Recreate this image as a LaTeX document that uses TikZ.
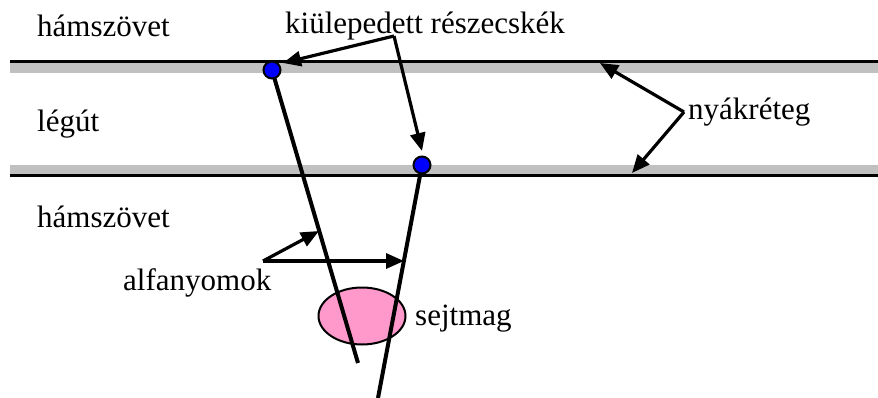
\documentclass[tikz,border=0pt]{standalone}
\usepackage{fontspec}
\setmainfont{Liberation Serif}
\usetikzlibrary{arrows.meta,shapes.geometric}
\definecolor{bandgrey}{HTML}{C0C0C0}
\definecolor{nucpink}{HTML}{FF99CC}
\tikzset{
  lbl/.style={anchor=base west, inner sep=0pt, font=\fontsize{31}{36}\selectfont},
  band/.style={bandgrey, line width=10pt},
  edge/.style={black, line width=3pt},
  track/.style={black, line width=4pt},
  pointer/.style={black, line width=3.2pt, -{Triangle[length=18pt,width=15pt]}},
  particle/.style={circle, draw=black, fill=blue, line width=2pt, minimum size=17pt, inner sep=0pt},
}
\begin{document}
\begin{tikzpicture}[x=1pt,y=-1pt]
\useasboundingbox (0,0) rectangle (878,398);
% layers
\draw[band] (10,68) -- (878,68);
\draw[edge] (10,62) -- (878,62);
\draw[band] (10,170) -- (878,170);
\draw[edge] (10,176) -- (878,176);
% labels
\node[lbl] (h1) at (37,37) {hámszövet};
\node[lbl] (lg) at (37,132) {légút};
\node[lbl] (h2) at (37,227) {hámszövet};
\node[lbl] (kr) at (285,34) {kiülepedett részecskék};
\node[lbl] (ny) at (688,120) {nyákréteg};
\node[lbl] (al) at (123,290) {alfanyomok};
\node[lbl] (sm) at (415,325) {sejtmag};
% nucleus
\node[ellipse, draw=black, fill=nucpink, line width=2pt, minimum width=87pt, minimum height=57pt, inner sep=0pt] (nuc) at (362,316) {};
% particles
\coordinate (p1c) at (272,70);
\coordinate (p2c) at (422,165);
\coordinate (e1) at (358,363);
\coordinate (e2) at (378,398);
\draw[track] (p1c) -- (e1);
\draw[track] (p2c) -- (e2);
\node[particle] (p1) at (p1c) {};
\node[particle] (p2) at (p2c) {};
% pointers
\coordinate (ka) at (394,36);
\coordinate (kt1) at (283,63);
\coordinate (kt2) at (422,151);
\draw[pointer] (ka) -- (kt1);
\draw[pointer] (ka) -- (kt2);
\coordinate (na) at (684,112);
\coordinate (nt1) at (600,63);
\coordinate (nt2) at (632,173);
\draw[pointer] (na) -- (nt1);
\draw[pointer] (na) -- (nt2);
\coordinate (aa) at (263,261);
\coordinate (at1) at (319,231);
\coordinate (at2) at (404,261);
\draw[pointer] (aa) -- (at1);
\draw[pointer] (aa) -- (at2);
\end{tikzpicture}
\end{document}
